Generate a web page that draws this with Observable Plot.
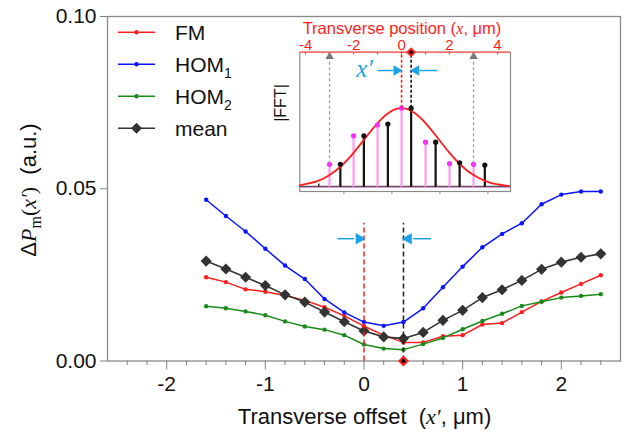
<!DOCTYPE html>
<html><head><meta charset="utf-8">
<script src="https://cdn.jsdelivr.net/npm/d3@7"></script>
<script src="https://cdn.jsdelivr.net/npm/@observablehq/plot@0.6"></script>
<style>
body{margin:0;background:#fff}
#wrap{position:relative;width:626px;height:432px;overflow:hidden;background:#fff}
#wrap svg{position:absolute;left:0;top:0}
</style>
</head><body><div id="wrap"></div>
<script>
// ---------- main chart data ----------
const offsets = [-1.6,-1.4,-1.2,-1.0,-0.8,-0.6,-0.4,-0.2,0,0.2,0.4,0.6,0.8,1.0,1.2,1.4,1.6,1.8,2.0,2.2,2.4];
const FM   = [0.0243,0.0229,0.0208,0.0201,0.0190,0.0176,0.0156,0.0131,0.0101,0.0075,0.0054,0.0054,0.0072,0.0075,0.0106,0.0110,0.0142,0.0173,0.0199,0.0224,0.0249];
const HOM1 = [0.0468,0.0421,0.0376,0.0326,0.0277,0.0238,0.0180,0.0141,0.0113,0.0102,0.0113,0.0153,0.0214,0.0274,0.0330,0.0369,0.0400,0.0455,0.0483,0.0492,0.0492];
const HOM2 = [0.0159,0.0153,0.0144,0.0133,0.0115,0.0100,0.0091,0.0075,0.0048,0.0036,0.0033,0.0049,0.0067,0.0092,0.0116,0.0137,0.0160,0.0172,0.0184,0.0189,0.0194];
const MEAN = [0.0290,0.0267,0.0243,0.0219,0.0192,0.0171,0.0142,0.0114,0.0087,0.0070,0.0065,0.0083,0.0118,0.0147,0.0184,0.0207,0.0234,0.0266,0.0287,0.0301,0.0311];
const xTicks = [-2,-1,0,1,2];
const xMinorTicks = [-2.4,-2.2,-1.8,-1.6,-1.4,-1.2,-0.8,-0.6,-0.4,-0.2,0.2,0.4,0.6,0.8,1.2,1.4,1.6,1.8,2.2,2.4];
const yTicks = [0, 0.05, 0.10];
const refX = 0, bestX = 0.4;            // dashed markers (x' = 0 and optimum)
const markerTop = 0.040, arrowY = 0.0355;

// ---------- inset data ----------
const pinkX = [-3,-2,-1,0,1,2,3];
const pinkH = [0.29,0.65,0.79,1.0,0.57,0.30,0.29];
const blackX = [-2.55,-1.57,-0.57,0.4,1.42,2.42,3.47];
const blackH = [0.29,0.65,0.80,1.0,0.57,0.31,0.28];
const smallX = [-3.45], smallH = [0.04];
const gaussX = [-4.3,-3.5,-3,-2.5,-2,-1.5,-1,-0.5,0,0.5,1,1.5,2,2.5,3,3.5,4,4.6];
const gaussY = [0.021,0.078,0.154,0.272,0.435,0.626,0.812,0.949,1.0,0.949,0.812,0.626,0.435,0.272,0.154,0.078,0.036,0.012];
const insetTicks = [-4,-2,0,2,4];
const insetMinor = [-4,-3,-2,-1,0,1,2,3,4];
const insetBottomTicks = [-2.4,-0.4,1.6,3.6];
const guideX = [-3, 3];

const SANS = "Arial, 'Liberation Sans', Helvetica, sans-serif";
const SERIF = "'Times New Roman', 'Liberation Serif', 'DejaVu Serif', serif";
const RED = "#ff1e1e", BLUE = "#0a14ff", GREEN = "#1a8a1a", DARK = "#333333", CYAN = "#1aa3e8";
const hyph = d => d < 0 ? "-" + (-d) : String(d);

const table = (ys) => offsets.map((x, i) => ({x, y: ys[i]}));
const series = [
  {name: "FM", ys: FM, color: RED},
  {name: "HOM1", ys: HOM1, color: BLUE},
  {name: "HOM2", ys: HOM2, color: GREEN}
];

const main = Plot.plot({
  width: 626, height: 432,
  marginLeft: 107, marginRight: 6, marginTop: 16, marginBottom: 71.5,
  style: {background: "transparent", fontFamily: SANS, color: "#111", overflow: "visible"},
  x: {domain: [-2.6, 2.6]},
  y: {domain: [0, 0.1]},
  marks: [
    Plot.frame({stroke: "#8a8a8a", strokeWidth: 1.3}),
    Plot.axisX({ticks: xMinorTicks, tickSize: 4.5, tickFormat: () => "", stroke: "#808080", label: null}),
    Plot.axisX({ticks: xTicks, tickSize: 9, tickPadding: 6, tickFormat: hyph, stroke: "#808080", fill: "#111", fontSize: 21, label: null}),
    Plot.axisY({ticks: yTicks, tickSize: 7, tickPadding: 4, tickFormat: d => d.toFixed(2), stroke: "#808080", fill: "#111", fontSize: 21, label: null}),
    ...series.flatMap(s => [
      Plot.line(table(s.ys), {x: "x", y: "y", stroke: s.color, strokeWidth: 1.5}),
      Plot.dot(table(s.ys), {x: "x", y: "y", fill: s.color, r: 2.2})
    ]),
    Plot.line(table(MEAN), {x: "x", y: "y", stroke: DARK, strokeWidth: 1.6}),
    Plot.dot(table(MEAN), {x: "x", y: "y", fill: DARK, symbol: "diamond2", r: 5}),
    Plot.ruleX([refX], {y1: 0, y2: markerTop, stroke: RED, strokeWidth: 1.5, strokeDasharray: "5,3"}),
    Plot.ruleX([bestX], {y1: 0, y2: markerTop, stroke: "#222", strokeWidth: 1.5, strokeDasharray: "5,3"}),
    Plot.link([{a: -0.27, b: -0.1}], {x1: "a", x2: "b", y1: arrowY, y2: arrowY, stroke: CYAN, strokeWidth: 1.5}),
    Plot.dot([refX], {x: d => d, y: arrowY, symbol: "triangle2", rotate: 90, r: 5.5, dx: -5, fill: CYAN}),
    Plot.link([{a: 0.68, b: 0.5}], {x1: "a", x2: "b", y1: arrowY, y2: arrowY, stroke: CYAN, strokeWidth: 1.5}),
    Plot.dot([bestX], {x: d => d, y: arrowY, symbol: "triangle2", rotate: -90, r: 5.5, dx: 5, fill: CYAN}),
    Plot.dot([bestX], {x: d => d, y: 0, symbol: "diamond2", r: 5, fill: RED}),
    Plot.dot([bestX], {x: d => d, y: 0, r: 2, fill: "#000"})
  ]
});
document.getElementById("wrap").appendChild(main);

const svg = d3.select(main);
// legend
const legend = [
  {label: "FM", sub: null, color: RED, sym: "dot"},
  {label: "HOM", sub: "1", color: BLUE, sym: "dot"},
  {label: "HOM", sub: "2", color: GREEN, sym: "dot"},
  {label: "mean", sub: null, color: DARK, sym: "diamond"}
];
const lg = svg.append("g").attr("font-family", SANS).attr("font-size", 21).attr("text-anchor", "start");
legend.forEach((d, i) => {
  const y = 32.3 + i * 32;
  lg.append("line").attr("x1", 118).attr("x2", 155).attr("y1", y).attr("y2", y).attr("stroke", d.color).attr("stroke-width", 1.6);
  if (d.sym === "dot") lg.append("circle").attr("cx", 136.5).attr("cy", y).attr("r", 2.2).attr("fill", d.color);
  else lg.append("path").attr("d", `M136.5,${y-5.5}L142,${y}L136.5,${y+5.5}L131,${y}Z`).attr("fill", d.color);
  const t = lg.append("text").attr("x", 175).attr("y", y + 7.5).attr("fill", "#111").text(d.label);
  if (d.sub) t.append("tspan").attr("font-size", 14).attr("dy", 6).text(d.sub);
});
// y label
const yl = svg.append("text").attr("transform", "translate(36,190) rotate(-90)").attr("text-anchor", "middle")
  .attr("font-family", SANS).attr("font-size", 22).attr("fill", "#111");
yl.append("tspan").text("Δ");
yl.append("tspan").attr("font-family", SERIF).attr("font-style", "italic").text("P");
yl.append("tspan").attr("font-family", SERIF).attr("font-size", 16).attr("dy", 5).text("m");
yl.append("tspan").attr("font-family", SERIF).attr("dy", -5).text("(");
yl.append("tspan").attr("font-family", SERIF).attr("font-style", "italic").text("x′");
yl.append("tspan").attr("font-family", SERIF).text(")");
yl.append("tspan").text("\u00a0\u00a0(a.u.)");
// x label
const xl = svg.append("text").attr("x", 364.5).attr("y", 424).attr("text-anchor", "middle")
  .attr("font-family", SANS).attr("font-size", 22).attr("fill", "#111");
xl.append("tspan").text("Transverse offset\u00a0\u00a0(");
xl.append("tspan").attr("font-family", SERIF).attr("font-style", "italic").text("x′");
xl.append("tspan").text(", μm)");

// ---------- inset ----------
const yTop = 1.709;
const peaks = (xs, hs) => xs.map((x, i) => ({x, h: hs[i]}));
const inset = Plot.plot({
  width: 260, height: 201,
  marginLeft: 39.3, marginRight: 10, marginTop: 51.7, marginBottom: 10,
  style: {background: "transparent", fontFamily: SANS, overflow: "visible"},
  x: {domain: [-4.24, 4.54]},
  y: {domain: [-0.054, yTop], axis: null},
  marks: [
    Plot.frame({stroke: "#8a8a8a", strokeWidth: 1.2}),
    Plot.axisX({anchor: "bottom", ticks: insetBottomTicks, tickSize: 3, tickFormat: () => "", stroke: "#888", label: null}),
    Plot.axisX({anchor: "top", ticks: insetTicks, tickSize: 0, tickPadding: 2, tickFormat: hyph, fill: RED, fontSize: 15, label: null}),
    Plot.ruleX(insetMinor, {y1: yTop, y2: yTop - 0.035, stroke: RED, strokeWidth: 1}),
    Plot.ruleY([yTop], {stroke: "#ff6b6b", strokeWidth: 1.6}),
    Plot.ruleY([0.0], {stroke: "#d070d0", strokeWidth: 1.2}),
    Plot.ruleY([0.012], {stroke: "#333", strokeWidth: 1}),
    Plot.ruleX(peaks(pinkX, pinkH), {x: "x", y1: 0, y2: "h", stroke: "#ff99f2", strokeWidth: 2.2}),
    Plot.ruleX(peaks(blackX, blackH), {x: "x", y1: 0, y2: "h", stroke: "#111", strokeWidth: 2.2}),
    Plot.ruleX(peaks(smallX, smallH), {x: "x", y1: 0, y2: "h", stroke: "#333", strokeWidth: 1.5}),
    Plot.line(gaussX.map((x, i) => ({x, y: gaussY[i]})), {x: "x", y: "y", curve: "natural", stroke: RED, strokeWidth: 1.8, clip: true}),
    Plot.dot(peaks(pinkX, pinkH), {x: "x", y: "h", r: 2.6, fill: "#ff2cff"}),
    Plot.dot(peaks(blackX, blackH), {x: "x", y: "h", r: 2.6, fill: "#111"}),
    Plot.ruleX(guideX, {y1: 0.29, y2: 1.62, stroke: "#999", strokeWidth: 1.2, strokeDasharray: "3,2.5"}),
    Plot.dot(guideX, {x: d => d, y: 1.655, symbol: "triangle2", r: 4, fill: "#777"}),
    Plot.ruleX([refX], {y1: 1.0, y2: yTop, stroke: RED, strokeWidth: 1.6, strokeDasharray: "3,2"}),
    Plot.ruleX([bestX], {y1: 1.0, y2: yTop, stroke: "#111", strokeWidth: 1.6, strokeDasharray: "3,2"}),
    Plot.link([{a: -1.0, b: -0.35}], {x1: "a", x2: "b", y1: 1.477, y2: 1.477, stroke: CYAN, strokeWidth: 1.5}),
    Plot.dot([refX], {x: d => d, y: 1.477, symbol: "triangle2", rotate: 90, r: 5, dx: -5, fill: CYAN}),
    Plot.link([{a: 1.5, b: 0.75}], {x1: "a", x2: "b", y1: 1.477, y2: 1.477, stroke: CYAN, strokeWidth: 1.5}),
    Plot.dot([bestX], {x: d => d, y: 1.477, symbol: "triangle2", rotate: -90, r: 5, dx: 5, fill: CYAN}),
    Plot.text(["x′"], {x: -1.54, y: 1.5, fontFamily: SERIF, fontStyle: "italic", fontSize: 25, fill: CYAN}),
    Plot.dot([bestX], {x: d => d, y: yTop, symbol: "diamond2", r: 4.5, fill: RED}),
    Plot.dot([bestX], {x: d => d, y: yTop, r: 1.8, fill: "#000"}),
    Plot.text(["|FFT|"], {frameAnchor: "left", dx: -19, rotate: -90, fontSize: 16, fill: "#111"})
  ]
});
inset.style.left = "260px";
inset.style.top = "0px";
document.getElementById("wrap").appendChild(inset);
const it = d3.select(inset).append("text").attr("x", 142).attr("y", 33.5).attr("text-anchor", "middle")
  .attr("font-family", SANS).attr("font-size", 16.5).attr("fill", RED);
it.append("tspan").text("Transverse position (");
it.append("tspan").attr("font-family", SERIF).attr("font-style", "italic").text("x");
it.append("tspan").text(", μm)");
</script>
</body></html>
